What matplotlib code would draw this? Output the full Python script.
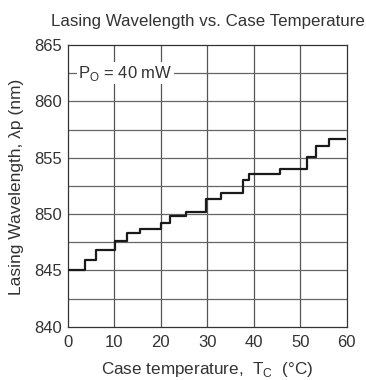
import matplotlib
matplotlib.use("Agg")
import matplotlib.pyplot as plt
import numpy as np

plt.rcParams['font.family'] = ['Liberation Sans', 'DejaVu Sans']

# Step data (temperature where each level starts, level in nm)
temps = [0.2, 3.6, 6.0, 10.1, 12.6, 15.4, 20.1, 21.9, 25.4, 29.8, 33.0, 37.7, 38.9, 45.6, 51.4, 53.4, 56.25, 59.6]
waves = [845.0, 845.9, 846.8, 847.6, 848.3, 848.7, 849.2, 849.8, 850.15, 851.3, 851.9, 853.0, 853.55, 854.0, 855.1, 856.0, 856.7, 856.7]

xticks = [0, 10, 20, 30, 40, 50, 60]
yticks = [840, 845, 850, 855, 860, 865]
yminor = [842.5, 847.5, 852.5, 857.5, 862.5]

title = "Lasing Wavelength vs. Case Temperature"
xlabel = r"Case temperature,  T$_\mathregular{C}$  (°C)"
ylabel = "Lasing Wavelength, λp (nm)"
note = r"P$_\mathregular{O}$ = 40 mW"

fig = plt.figure(figsize=(3.66, 3.80), dpi=100)
ax = fig.add_axes([0.1858, 0.1403, 0.947 - 0.1858, 0.8816 - 0.1403])

ax.set_xlim(0, 60)
ax.set_ylim(840, 865)
ax.set_xticks(xticks)
ax.set_yticks(yticks)
ax.set_yticks(yminor, minor=True)
ax.tick_params(which='both', length=0, labelsize=12, colors='#333333')
ax.tick_params(axis='x', pad=6)
ax.tick_params(axis='y', pad=4)

for x in xticks[1:-1]:
    ax.axvline(x, color='#555555', lw=0.9, zorder=1)
for y in yticks[1:-1] + yminor:
    ax.axhline(y, color='#666666', lw=0.9, zorder=1)

ax.step(temps, waves, where='post', color='#1a1a1a', lw=1.6, zorder=3)

for s in ax.spines.values():
    s.set_color('#333333')
    s.set_linewidth(0.9)

ax.text(2.2, 862.5, note, fontsize=12, color='#333333', va='center', ha='left',
        bbox=dict(facecolor='white', edgecolor='none', pad=1.0), zorder=4)

fig.text(0.567, 0.943, title, fontsize=12.2, color='#333333', ha='center', va='center')
fig.text(0.567, 0.028, xlabel, fontsize=12.3, color='#333333', ha='center', va='center')
fig.text(0.044, 0.508, ylabel, fontsize=12.5, color='#333333', ha='center', va='center', rotation=90)

fig.savefig('out.png', dpi=100, facecolor='white')
